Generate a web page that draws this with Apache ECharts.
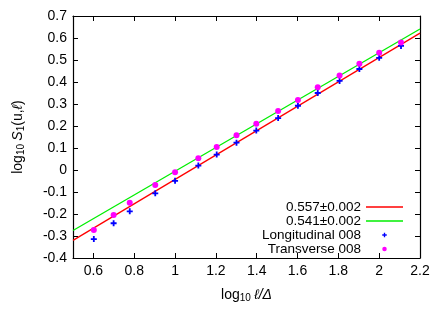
<!DOCTYPE html>
<html><head><meta charset="utf-8">
<script src="https://cdn.jsdelivr.net/npm/echarts@6/dist/echarts.min.js"></script>
<style>html,body{margin:0;padding:0;background:#fff}#c{width:447px;height:313px}</style>
</head><body><div id="c"></div>
<script>
const xTicks = [0.6, 0.8, 1.0, 1.2, 1.4, 1.6, 1.8, 2.0, 2.2];
const yTicks = [-0.4, -0.3, -0.2, -0.1, 0, 0.1, 0.2, 0.3, 0.4, 0.5, 0.6, 0.7];
const ptX = [0.602, 0.699, 0.778, 0.903, 1.0, 1.114, 1.204, 1.301, 1.398, 1.505, 1.602, 1.699, 1.806, 1.903, 2.0, 2.107];
const longY = [-0.314, -0.242, -0.188, -0.106, -0.049, 0.020, 0.070, 0.124, 0.179, 0.236, 0.292, 0.350, 0.405, 0.459, 0.510, 0.564];
const transY = [-0.273, -0.205, -0.149, -0.068, -0.010, 0.053, 0.105, 0.158, 0.210, 0.268, 0.318, 0.376, 0.429, 0.483, 0.533, 0.579];
const fitX = [0.5, 2.2];
const redY = [-0.320, 0.622];
const greenY = [-0.275, 0.641];
const names = ['0.557\u00b10.002', '0.541\u00b10.002', 'Longitudinal 008', 'Transverse 008'];

const F = 'Liberation Sans, Arial, sans-serif';
function fmt(v){ const s = (+v).toFixed(1); if (s === '0.0' || s === '-0.0') return '0'; return String(parseFloat(s)); }
const zip = (a, b) => a.map((x, i) => [x, b[i]]);
const plusPath = 'path://M3.5,0H6.5V3.5H10V6.5H6.5V10H3.5V6.5H0V3.5H3.5Z';
const linePath = 'path://M0,0H37V1.3H0Z';

const chart = echarts.init(document.getElementById('c'), null, {renderer: 'canvas'});
const tickCommon = {lineStyle: {color: '#000', width: 1}, inside: true, length: 5};
const axLine = {show: true, onZero: false, lineStyle: {color: '#000', width: 1.2}};
chart.setOption({
  animation: false,
  grid: {left: 73, top: 16, right: 27, bottom: 55, containLabel: false},
  xAxis: [{
    type: 'value', min: 0.5, max: 2.2, position: 'bottom',
    axisLine: axLine,
    axisTick: Object.assign({customValues: xTicks}, tickCommon),
    axisLabel: {customValues: xTicks, formatter: fmt, color: '#000', fontSize: 14, fontFamily: F, margin: 6},
    splitLine: {show: false},
    name: '{n|log}{s|10} {i|\u2113/\u0394}', nameLocation: 'middle', nameGap: 29,
    nameTextStyle: {rich: {
      n: {fontSize: 14, fontFamily: F, color: '#000'},
      s: {fontSize: 10, fontFamily: F, color: '#000', verticalAlign: 'bottom', padding: [6, 0, 0, 0]},
      i: {fontSize: 14, fontFamily: F, fontStyle: 'italic', color: '#000'}
    }}
  }, {
    type: 'value', min: 0.5, max: 2.2, position: 'top',
    axisLine: axLine,
    axisTick: Object.assign({customValues: xTicks}, tickCommon),
    axisLabel: {show: false}, splitLine: {show: false}
  }],
  yAxis: [{
    type: 'value', min: -0.4, max: 0.7, interval: 0.1, position: 'left',
    axisLine: axLine,
    axisTick: Object.assign({customValues: yTicks}, tickCommon),
    axisLabel: {customValues: yTicks, formatter: fmt, color: '#000', fontSize: 14, fontFamily: F, margin: 6},
    splitLine: {show: false},
    name: '{n|log}{s|10} {i|S}{s|1}{n|(u,}{i|\u2113}{n|)}', nameLocation: 'middle', nameGap: 47, nameRotate: 90,
    nameTextStyle: {rich: {
      n: {fontSize: 14, fontFamily: F, color: '#000'},
      s: {fontSize: 10, fontFamily: F, color: '#000', verticalAlign: 'bottom', padding: [6, 0, 0, 0]},
      i: {fontSize: 14, fontFamily: F, fontStyle: 'italic', color: '#000'}
    }}
  }, {
    type: 'value', min: -0.4, max: 0.7, interval: 0.1, position: 'right',
    axisLine: axLine,
    axisTick: Object.assign({customValues: yTicks}, tickCommon),
    axisLabel: {show: false}, splitLine: {show: false}
  }],
  legend: {
    orient: 'vertical', align: 'right', right: 44, top: 200, padding: 0,
    itemWidth: 37, itemHeight: 4.5, itemGap: 0, symbolKeepAspect: true,
    textStyle: {fontSize: 13.5, fontFamily: F, color: '#000'},
    data: [
      {name: names[0], icon: linePath},
      {name: names[1], icon: linePath},
      {name: names[2], icon: plusPath},
      {name: names[3], icon: 'circle'}
    ]
  },
  series: [
    {name: names[0], type: 'line', data: zip(fitX, redY), showSymbol: false, symbol: 'none', z: 2,
      lineStyle: {color: '#ff0000', width: 1.3}, itemStyle: {color: '#ff0000'}},
    {name: names[1], type: 'line', data: zip(fitX, greenY), showSymbol: false, symbol: 'none', z: 2,
      lineStyle: {color: '#00ee00', width: 1.3}, itemStyle: {color: '#00ee00'}},
    {name: names[2], type: 'scatter', data: zip(ptX, longY), symbol: plusPath, symbolSize: 6, z: 5,
      itemStyle: {color: '#0000ff', opacity: 1}},
    {name: names[3], type: 'scatter', data: zip(ptX, transY), symbol: 'circle', symbolSize: 6, z: 5,
      itemStyle: {color: '#ff00ff', opacity: 1}}
  ]
});
</script></body></html>
